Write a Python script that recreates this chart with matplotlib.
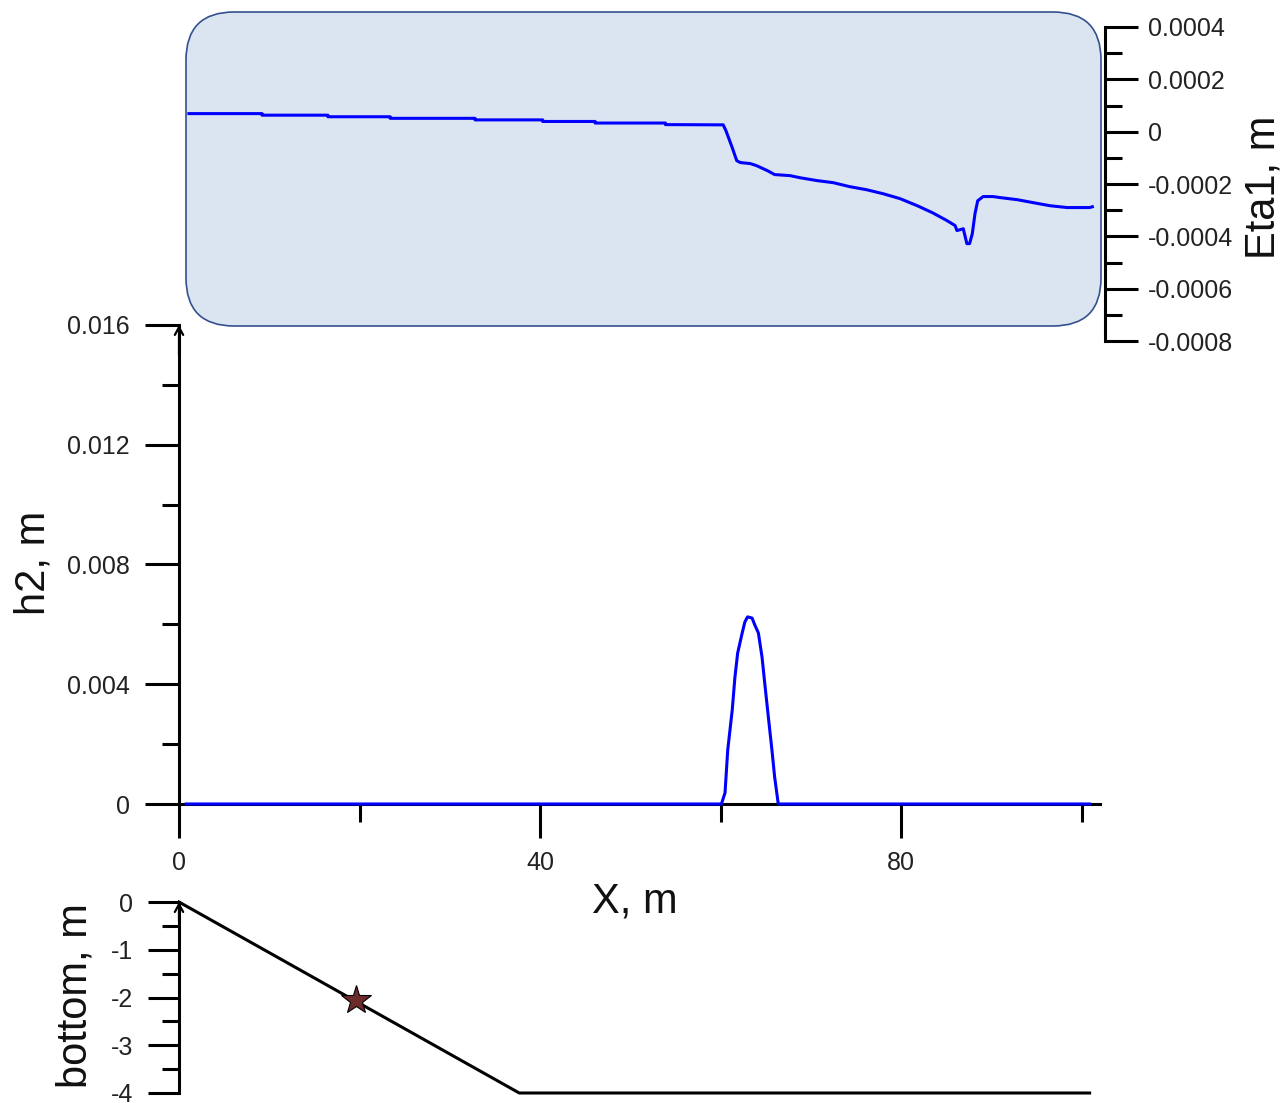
import numpy as np
import matplotlib
matplotlib.use('Agg')
import matplotlib.pyplot as plt
from matplotlib.patches import FancyBboxPatch
from matplotlib.transforms import IdentityTransform
from matplotlib.ticker import FuncFormatter

plt.rcParams['font.family'] = ['Liberation Sans', 'DejaVu Sans']
plt.rcParams['axes.unicode_minus'] = False

# top panel: Eta1 (m) along X (m)
eta_x = [1.1, 9.2, 9.2, 16.5, 16.5, 23.4, 23.4, 32.8, 32.8, 40.3, 40.3, 46.1, 46.1,
         53.9, 53.9, 60.3, 60.6, 61.3, 61.8, 62.2, 63.3, 64.0, 65.2, 66.0, 67.7, 68.8,
         70.7, 72.5, 74.3, 76.2, 78.0, 79.9, 81.8, 83.5, 85.1, 86.0, 86.2, 86.9, 87.3,
         87.6, 87.9, 88.2, 88.5, 89.1, 90.2, 91.0, 92.9, 94.6, 96.5, 98.4, 100.9, 101.2]
eta_v = np.array([6.9, 6.9, 6.3, 6.3, 5.7, 5.7, 5.1, 5.1, 4.5, 4.5, 3.9, 3.9, 3.3, 3.3,
                  2.7, 2.6, 0.4, -6.1, -11.1, -11.8, -12.2, -13.0, -14.9, -16.4, -16.8,
                  -17.6, -18.7, -19.5, -21.0, -22.2, -23.7, -25.6, -28.3, -31.0, -34.0,
                  -35.9, -37.8, -37.1, -42.8, -42.8, -39.0, -31.3, -26.4, -24.8, -24.8,
                  -25.2, -26.0, -27.1, -28.3, -29.0, -29.0, -28.7]) * 1e-5

# middle panel: h2 (m)
h2_x = [0.8, 60.1, 60.5, 60.8, 61.3, 61.6, 61.9, 62.4, 62.7, 63.0, 63.5, 63.8, 64.2,
        64.6, 64.9, 65.3, 65.7, 66.0, 66.4, 100.9]
h2_v = np.array([0, 0, 0.37, 1.8, 3.14, 4.24, 5.04, 5.71, 6.08, 6.25, 6.21, 5.98, 5.71,
                 4.91, 4.04, 2.91, 1.80, 0.90, 0, 0]) * 1e-3

# bottom panel: bottom profile (m) and gauge position
bot_x = [0, 37.7, 100.9]
bot_z = [0, -4, -4]
star_x = [19.6]
star_z = [-2.05]

W, H = 1288, 1103
X0, XS = 179, 9.025  # pixel of x=0 and pixels per metre


def rect(x0, x1, y0, y1):
    return [x0 / W, 1 - y1 / H, (x1 - x0) / W, (y1 - y0) / H]


def xlims(px0, px1):
    return ((px0 - X0) / XS, (px1 - X0) / XS)


tick_col = '#222222'
lw = 2.2
fs = 18

fig = plt.figure(figsize=(W / 100, H / 100), dpi=100)

# ---- middle panel
ax = fig.add_axes(rect(143, 1100, 320, 840))
ys = 29940.0
ax.set_xlim(*xlims(143, 1100))
ax.set_ylim(-(840 - 804) / ys, (804 - 320) / ys)
ax.patch.set_visible(False)
ax.plot(h2_x, h2_v, color='#0000ff', lw=lw, zorder=3, clip_on=False)
for s in ['top', 'right']:
    ax.spines[s].set_visible(False)
ax.spines['left'].set_position(('data', 0))
ax.spines['bottom'].set_position(('data', 0))
ax.spines['left'].set_bounds(0, 0.016)
ax.spines['bottom'].set_bounds(0, xlims(143, 1100)[1])
for s in ['left', 'bottom']:
    ax.spines[s].set_linewidth(lw)
ax.set_xticks([0, 40, 80])
ax.set_xticks([20, 60, 100], minor=True)
ax.set_yticks([0, 0.004, 0.008, 0.012, 0.016])
ax.set_yticks([0.002, 0.006, 0.010, 0.014], minor=True)
ax.yaxis.set_major_formatter(FuncFormatter(lambda v, p: '0' if v == 0 else f'{v:.3f}'))
ax.xaxis.set_major_formatter(FuncFormatter(lambda v, p: f'{v:.0f}'))
ax.tick_params(axis='x', which='major', direction='out', length=24.5, width=lw,
               pad=9, labelsize=fs, labelcolor=tick_col)
ax.tick_params(axis='x', which='minor', direction='out', length=13, width=lw)
ax.tick_params(axis='y', which='major', direction='out', length=24.5, width=lw,
               pad=11, labelsize=fs, labelcolor=tick_col)
ax.tick_params(axis='y', which='minor', direction='out', length=12.5, width=lw)
ax.annotate('', xy=(0, 0.016), xytext=(0, 0.0150),
            arrowprops=dict(arrowstyle='->,head_length=0.55,head_width=0.3',
                            lw=1.6, color='k', shrinkA=0, shrinkB=0))

# ---- top panel
axt = fig.add_axes(rect(143, 1105, 27, 341))
axt.set_xlim(*xlims(143, 1105))
axt.set_ylim(-0.0008, 0.0004)
axt.patch.set_visible(False)
box = FancyBboxPatch((186, H - 326), 1101 - 186, 326 - 12,
                     boxstyle='round,pad=0,rounding_size=48',
                     transform=IdentityTransform(), facecolor='#dbe5f1',
                     edgecolor='#34508e', lw=1.2, clip_on=False, zorder=0)
axt.add_patch(box)
axt.plot(eta_x, eta_v, color='#0000ff', lw=lw, zorder=3)
for s in ['top', 'left', 'bottom']:
    axt.spines[s].set_visible(False)
axt.spines['right'].set_linewidth(lw)
axt.set_xticks([])
axt.yaxis.tick_right()
axt.set_yticks(np.arange(-0.0008, 0.00041, 0.0002))
axt.set_yticks(np.arange(-0.0007, 0.0004, 0.0002), minor=True)
axt.yaxis.set_major_formatter(FuncFormatter(lambda v, p: '0' if abs(v) < 1e-9 else f'{v:.4f}'))
axt.tick_params(axis='y', which='major', direction='out', length=24, width=lw,
                pad=7, labelsize=fs, labelcolor=tick_col)
axt.tick_params(axis='y', which='minor', direction='out', length=12, width=lw)

# ---- bottom panel
axb = fig.add_axes(rect(143, 1100, 895, 1103))
zs = 47.75
axb.set_xlim(*xlims(143, 1100))
axb.set_ylim(-4 - (1103 - 1093) / zs, (902 - 895) / zs)
axb.patch.set_visible(False)
axb.plot(bot_x, bot_z, color='k', lw=lw, clip_on=False)
axb.plot(star_x, star_z, marker='*', ms=22, mfc='#6b2b2b', mec='k', mew=0.8,
         ls='none', zorder=4)
for s in ['top', 'right', 'bottom']:
    axb.spines[s].set_visible(False)
axb.spines['left'].set_position(('data', 0))
axb.spines['left'].set_bounds(-4, 0)
axb.spines['left'].set_linewidth(lw)
axb.set_xticks([])
axb.set_yticks([0, -1, -2, -3, -4])
axb.set_yticks([-0.5, -1.5, -2.5, -3.5], minor=True)
axb.yaxis.set_major_formatter(FuncFormatter(lambda v, p: f'{v:.0f}'))
axb.tick_params(axis='y', which='major', direction='out', length=22, width=lw,
                pad=11, labelsize=fs, labelcolor=tick_col)
axb.tick_params(axis='y', which='minor', direction='out', length=12, width=lw)
axb.annotate('', xy=(0, 0), xytext=(0, -0.4),
             arrowprops=dict(arrowstyle='->,head_length=0.55,head_width=0.3',
                             lw=1.6, color='k', shrinkA=0, shrinkB=0))

# axis titles
lab = dict(fontsize=30, color='#111111', ha='center', va='center')
fig.text(1264 / W, 1 - 187 / H, 'Eta1, m', rotation=90, **lab)
fig.text(33 / W, 1 - 563 / H, 'h2, m', rotation=90, **lab)
fig.text(76 / W, 1 - 996 / H, 'bottom, m', rotation=90, **lab)
fig.text(635 / W, 1 - 902 / H, 'X, m', **lab)

fig.savefig('out.png', dpi=100)
